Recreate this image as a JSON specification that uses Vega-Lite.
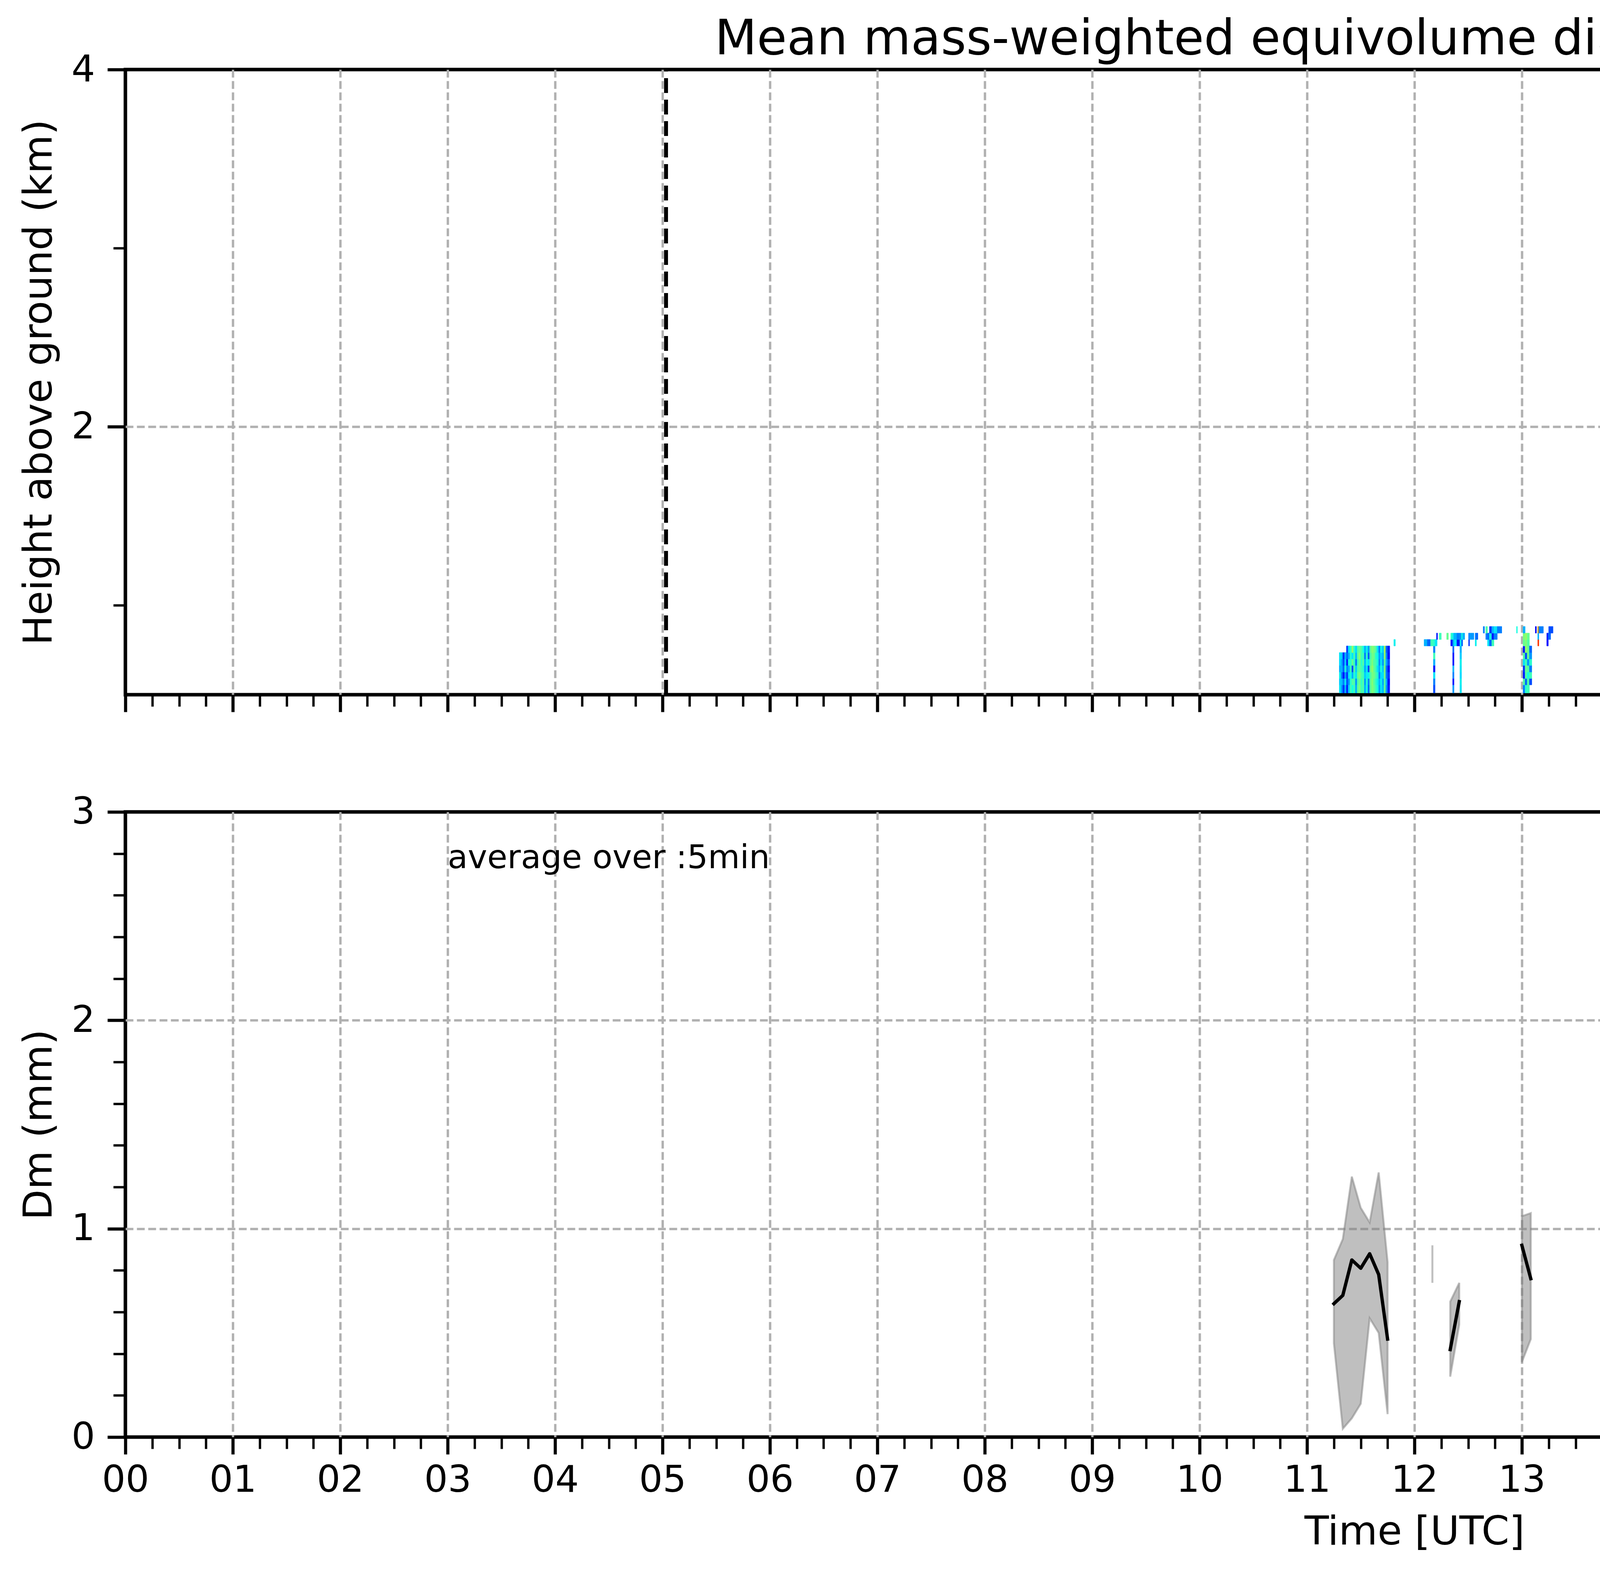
{
  "$schema": "https://vega.github.io/schema/vega-lite/v6.json",
  "padding": {"left": 45, "top": 34, "right": 20, "bottom": 20},
  "background": "white",
  "config": {
    "font": "DejaVu Sans",
    "view": {"stroke": "black", "strokeWidth": 9},
    "axis": {
      "domain": false,
      "tickColor": "black",
      "labelColor": "black",
      "titleColor": "black",
      "labelFontSize": 95,
      "titleFontSize": 102,
      "titleFontWeight": "normal",
      "labelFlush": false,
      "labelOverlap": false,
      "labelBound": false,
      "gridColor": "#b0b0b0",
      "gridWidth": 6,
      "gridDash": [20, 9]
    }
  },
  "datasets": {
    "gates": [
      {"g": 1, "h0": 0.510, "h1": 0.555},
      {"g": 2, "h0": 0.555, "h1": 0.591},
      {"g": 3, "h0": 0.591, "h1": 0.627},
      {"g": 4, "h0": 0.627, "h1": 0.664},
      {"g": 5, "h0": 0.664, "h1": 0.700},
      {"g": 6, "h0": 0.700, "h1": 0.736},
      {"g": 7, "h0": 0.736, "h1": 0.773},
      {"g": 8, "h0": 0.773, "h1": 0.809},
      {"g": 9, "h0": 0.809, "h1": 0.845},
      {"g": 10, "h0": 0.845, "h1": 0.882}
    ],
    "cols": [
      {"c": 0, "t0": 11.300, "t1": 11.317}, {"c": 1, "t0": 11.317, "t1": 11.333},
      {"c": 2, "t0": 11.333, "t1": 11.350}, {"c": 3, "t0": 11.350, "t1": 11.367},
      {"c": 4, "t0": 11.367, "t1": 11.383}, {"c": 5, "t0": 11.383, "t1": 11.400},
      {"c": 6, "t0": 11.400, "t1": 11.417}, {"c": 7, "t0": 11.417, "t1": 11.433},
      {"c": 8, "t0": 11.433, "t1": 11.450}, {"c": 9, "t0": 11.450, "t1": 11.467},
      {"c": 10, "t0": 11.467, "t1": 11.483}, {"c": 11, "t0": 11.483, "t1": 11.500},
      {"c": 12, "t0": 11.500, "t1": 11.517}, {"c": 13, "t0": 11.517, "t1": 11.533},
      {"c": 14, "t0": 11.533, "t1": 11.550}, {"c": 15, "t0": 11.550, "t1": 11.567},
      {"c": 16, "t0": 11.567, "t1": 11.583}, {"c": 17, "t0": 11.583, "t1": 11.600},
      {"c": 18, "t0": 11.600, "t1": 11.617}, {"c": 19, "t0": 11.617, "t1": 11.633},
      {"c": 20, "t0": 11.633, "t1": 11.650}, {"c": 21, "t0": 11.650, "t1": 11.667},
      {"c": 22, "t0": 11.667, "t1": 11.683}, {"c": 23, "t0": 11.683, "t1": 11.700},
      {"c": 24, "t0": 11.700, "t1": 11.717}, {"c": 25, "t0": 11.717, "t1": 11.733},
      {"c": 26, "t0": 11.733, "t1": 11.750}, {"c": 27, "t0": 11.750, "t1": 11.770},
      {"c": 30, "t0": 11.808, "t1": 11.822},
      {"c": 31, "t0": 12.090, "t1": 12.120}, {"c": 32, "t0": 12.120, "t1": 12.150},
      {"c": 33, "t0": 12.150, "t1": 12.176}, {"c": 34, "t0": 12.176, "t1": 12.192},
      {"c": 35, "t0": 12.192, "t1": 12.211}, {"c": 36, "t0": 12.205, "t1": 12.215},
      {"c": 37, "t0": 12.230, "t1": 12.250}, {"c": 38, "t0": 12.300, "t1": 12.316},
      {"c": 39, "t0": 12.338, "t1": 12.356}, {"c": 40, "t0": 12.356, "t1": 12.368},
      {"c": 41, "t0": 12.368, "t1": 12.395}, {"c": 42, "t0": 12.395, "t1": 12.423},
      {"c": 43, "t0": 12.423, "t1": 12.438}, {"c": 44, "t0": 12.438, "t1": 12.449},
      {"c": 45, "t0": 12.449, "t1": 12.468}, {"c": 46, "t0": 12.504, "t1": 12.513},
      {"c": 47, "t0": 12.513, "t1": 12.553}, {"c": 48, "t0": 12.565, "t1": 12.577},
      {"c": 49, "t0": 12.577, "t1": 12.590}, {"c": 50, "t0": 12.640, "t1": 12.652},
      {"c": 51, "t0": 12.664, "t1": 12.680}, {"c": 52, "t0": 12.680, "t1": 12.698},
      {"c": 53, "t0": 12.698, "t1": 12.720}, {"c": 54, "t0": 12.720, "t1": 12.740},
      {"c": 55, "t0": 12.740, "t1": 12.771}, {"c": 56, "t0": 12.771, "t1": 12.813},
      {"c": 57, "t0": 12.950, "t1": 12.958}, {"c": 58, "t0": 13.011, "t1": 13.030},
      {"c": 59, "t0": 13.030, "t1": 13.050}, {"c": 60, "t0": 13.050, "t1": 13.070},
      {"c": 61, "t0": 13.070, "t1": 13.092}, {"c": 62, "t0": 13.125, "t1": 13.135},
      {"c": 63, "t0": 13.148, "t1": 13.158}, {"c": 64, "t0": 13.158, "t1": 13.200},
      {"c": 65, "t0": 13.232, "t1": 13.246}, {"c": 66, "t0": 13.246, "t1": 13.268},
      {"c": 67, "t0": 13.250, "t1": 13.290}, {"c": 68, "t0": 13.872, "t1": 13.880},
      {"c": 69, "t0": 13.965, "t1": 13.985}, {"c": 70, "t0": 14.137, "t1": 14.160},
      {"c": 71, "t0": 14.160, "t1": 14.200}, {"c": 72, "t0": 14.200, "t1": 14.225}
    ],
    "cells": [
      {"c":0,"g":1,"v":0.70},{"c":0,"g":2,"v":0.65},{"c":0,"g":3,"v":0.72},{"c":0,"g":4,"v":0.60},{"c":0,"g":5,"v":0.68},{"c":0,"g":6,"v":0.70},
      {"c":1,"g":1,"v":0.55},{"c":1,"g":2,"v":0.62},{"c":1,"g":3,"v":0.50},{"c":1,"g":4,"v":0.60},{"c":1,"g":5,"v":0.58},{"c":1,"g":6,"v":0.65},
      {"c":2,"g":1,"v":0.35},{"c":2,"g":2,"v":0.50},{"c":2,"g":3,"v":0.30},{"c":2,"g":4,"v":0.45},{"c":2,"g":5,"v":0.40},{"c":2,"g":6,"v":0.35},
      {"c":3,"g":1,"v":0.60},{"c":3,"g":2,"v":0.70},{"c":3,"g":3,"v":0.55},{"c":3,"g":4,"v":0.75},{"c":3,"g":5,"v":0.65},{"c":3,"g":6,"v":0.60},
      {"c":4,"g":1,"v":0.30},{"c":4,"g":2,"v":0.40},{"c":4,"g":3,"v":0.35},{"c":4,"g":4,"v":0.50},{"c":4,"g":5,"v":0.30},{"c":4,"g":6,"v":0.45},{"c":4,"g":7,"v":0.35},
      {"c":5,"g":1,"v":0.65},{"c":5,"g":2,"v":0.55},{"c":5,"g":3,"v":0.70},{"c":5,"g":4,"v":0.60},{"c":5,"g":5,"v":0.75},{"c":5,"g":6,"v":0.60},{"c":5,"g":7,"v":0.70},
      {"c":6,"g":1,"v":0.85},{"c":6,"g":2,"v":0.80},{"c":6,"g":3,"v":0.75},{"c":6,"g":4,"v":0.85},{"c":6,"g":5,"v":0.80},{"c":6,"g":6,"v":0.78},{"c":6,"g":7,"v":0.82},
      {"c":7,"g":1,"v":0.75},{"c":7,"g":2,"v":0.90},{"c":7,"g":3,"v":0.60},{"c":7,"g":4,"v":0.40},{"c":7,"g":5,"v":0.95},{"c":7,"g":6,"v":0.70},{"c":7,"g":7,"v":1.05},
      {"c":8,"g":1,"v":0.85},{"c":8,"g":2,"v":0.88},{"c":8,"g":3,"v":0.80},{"c":8,"g":4,"v":0.90},{"c":8,"g":5,"v":0.82},{"c":8,"g":6,"v":0.86},{"c":8,"g":7,"v":0.80},
      {"c":9,"g":1,"v":0.60},{"c":9,"g":2,"v":0.55},{"c":9,"g":3,"v":0.70},{"c":9,"g":4,"v":0.65},{"c":9,"g":5,"v":0.50},{"c":9,"g":6,"v":0.62},{"c":9,"g":7,"v":0.68},
      {"c":10,"g":1,"v":0.92},{"c":10,"g":2,"v":0.88},{"c":10,"g":3,"v":0.95},{"c":10,"g":4,"v":0.90},{"c":10,"g":5,"v":0.85},{"c":10,"g":6,"v":0.92},{"c":10,"g":7,"v":0.90},
      {"c":11,"g":1,"v":0.98},{"c":11,"g":2,"v":0.95},{"c":11,"g":3,"v":1.00},{"c":11,"g":4,"v":0.92},{"c":11,"g":5,"v":0.96},{"c":11,"g":6,"v":1.02},{"c":11,"g":7,"v":0.95},
      {"c":12,"g":1,"v":0.85},{"c":12,"g":2,"v":0.82},{"c":12,"g":3,"v":0.88},{"c":12,"g":4,"v":0.86},{"c":12,"g":5,"v":0.80},{"c":12,"g":6,"v":0.84},{"c":12,"g":7,"v":0.88},
      {"c":13,"g":1,"v":0.88},{"c":13,"g":2,"v":0.90},{"c":13,"g":3,"v":0.84},{"c":13,"g":4,"v":0.80},{"c":13,"g":5,"v":0.90},{"c":13,"g":6,"v":0.86},{"c":13,"g":7,"v":0.75},
      {"c":14,"g":1,"v":0.60},{"c":14,"g":2,"v":0.55},{"c":14,"g":3,"v":0.65},{"c":14,"g":4,"v":0.58},{"c":14,"g":5,"v":0.62},{"c":14,"g":6,"v":0.50},{"c":14,"g":7,"v":0.60},
      {"c":15,"g":1,"v":0.75},{"c":15,"g":2,"v":0.78},{"c":15,"g":3,"v":0.72},{"c":15,"g":4,"v":0.70},{"c":15,"g":5,"v":0.76},{"c":15,"g":6,"v":0.80},{"c":15,"g":7,"v":0.72},
      {"c":16,"g":1,"v":0.45},{"c":16,"g":2,"v":0.50},{"c":16,"g":3,"v":0.72},{"c":16,"g":4,"v":0.38},{"c":16,"g":5,"v":0.70},{"c":16,"g":6,"v":0.42},{"c":16,"g":7,"v":0.55},
      {"c":17,"g":1,"v":0.90},{"c":17,"g":2,"v":0.92},{"c":17,"g":3,"v":0.88},{"c":17,"g":4,"v":0.95},{"c":17,"g":5,"v":0.90},{"c":17,"g":6,"v":0.87},{"c":17,"g":7,"v":0.92},
      {"c":18,"g":1,"v":1.00},{"c":18,"g":2,"v":1.02},{"c":18,"g":3,"v":0.98},{"c":18,"g":4,"v":1.05},{"c":18,"g":5,"v":1.00},{"c":18,"g":6,"v":0.97},{"c":18,"g":7,"v":1.02},
      {"c":19,"g":1,"v":0.95},{"c":19,"g":2,"v":0.92},{"c":19,"g":3,"v":0.97},{"c":19,"g":4,"v":0.94},{"c":19,"g":5,"v":0.90},{"c":19,"g":6,"v":0.96},{"c":19,"g":7,"v":0.98},
      {"c":20,"g":1,"v":0.85},{"c":20,"g":2,"v":0.82},{"c":20,"g":3,"v":0.88},{"c":20,"g":4,"v":0.84},{"c":20,"g":5,"v":0.86},{"c":20,"g":6,"v":0.80},{"c":20,"g":7,"v":0.90},
      {"c":21,"g":1,"v":0.75},{"c":21,"g":2,"v":0.72},{"c":21,"g":3,"v":0.78},{"c":21,"g":4,"v":0.70},{"c":21,"g":5,"v":0.76},{"c":21,"g":6,"v":0.74},{"c":21,"g":7,"v":0.70},
      {"c":22,"g":1,"v":0.55},{"c":22,"g":2,"v":0.60},{"c":22,"g":3,"v":0.50},{"c":22,"g":4,"v":0.58},{"c":22,"g":5,"v":0.52},{"c":22,"g":6,"v":0.56},{"c":22,"g":7,"v":0.50},
      {"c":23,"g":1,"v":0.70},{"c":23,"g":2,"v":0.72},{"c":23,"g":3,"v":0.68},{"c":23,"g":4,"v":0.75},{"c":23,"g":5,"v":0.70},{"c":23,"g":6,"v":0.66},{"c":23,"g":7,"v":0.74},
      {"c":24,"g":1,"v":0.62},{"c":24,"g":2,"v":0.58},{"c":24,"g":3,"v":0.68},{"c":24,"g":4,"v":0.64},{"c":24,"g":5,"v":0.55},{"c":24,"g":6,"v":0.60},{"c":24,"g":7,"v":0.65},
      {"c":25,"g":1,"v":0.95},{"c":25,"g":2,"v":0.90},{"c":25,"g":3,"v":0.98},{"c":25,"g":4,"v":1.00},{"c":25,"g":5,"v":0.92},{"c":25,"g":6,"v":1.05},{"c":25,"g":7,"v":1.10},
      {"c":26,"g":1,"v":0.55},{"c":26,"g":2,"v":0.60},{"c":26,"g":3,"v":0.50},{"c":26,"g":4,"v":0.48},{"c":26,"g":5,"v":0.58},{"c":26,"g":6,"v":0.52},{"c":26,"g":7,"v":0.45},
      {"c":27,"g":1,"v":0.30},{"c":27,"g":2,"v":0.25},{"c":27,"g":3,"v":0.35},{"c":27,"g":4,"v":0.28},{"c":27,"g":5,"v":0.40},{"c":27,"g":6,"v":0.22},{"c":27,"g":7,"v":0.30},
      {"c":30,"g":8,"v":0.72},
      {"c":31,"g":8,"v":0.60},{"c":32,"g":8,"v":0.45},{"c":33,"g":8,"v":0.85},
      {"c":34,"g":1,"v":0.40},{"c":34,"g":2,"v":0.50},{"c":34,"g":3,"v":0.70},{"c":34,"g":4,"v":0.30},{"c":34,"g":5,"v":0.60},{"c":34,"g":6,"v":0.85},{"c":34,"g":7,"v":0.50},{"c":34,"g":8,"v":0.80},
      {"c":35,"g":8,"v":0.70},{"c":36,"g":9,"v":0.30},{"c":37,"g":9,"v":0.85},{"c":38,"g":9,"v":0.95},
      {"c":39,"g":8,"v":0.25},{"c":39,"g":9,"v":0.80},
      {"c":40,"g":1,"v":0.55},{"c":40,"g":2,"v":0.30},{"c":40,"g":3,"v":0.50},{"c":40,"g":4,"v":0.60},{"c":40,"g":5,"v":0.30},{"c":40,"g":6,"v":0.30},{"c":40,"g":7,"v":0.45},{"c":40,"g":8,"v":0.55},{"c":40,"g":9,"v":0.70},
      {"c":41,"g":8,"v":0.70},{"c":41,"g":9,"v":0.60},
      {"c":42,"g":8,"v":0.30},{"c":42,"g":9,"v":0.50},
      {"c":43,"g":1,"v":0.70},{"c":43,"g":2,"v":0.72},{"c":43,"g":3,"v":0.68},{"c":43,"g":4,"v":0.70},{"c":43,"g":5,"v":0.72},{"c":43,"g":6,"v":0.65},{"c":43,"g":7,"v":0.60},{"c":43,"g":8,"v":0.72},{"c":43,"g":9,"v":0.55},
      {"c":44,"g":8,"v":0.45},{"c":44,"g":9,"v":0.75},
      {"c":45,"g":9,"v":0.60},
      {"c":46,"g":8,"v":0.35},{"c":46,"g":9,"v":0.50},
      {"c":47,"g":9,"v":0.55},
      {"c":48,"g":8,"v":0.72},{"c":48,"g":9,"v":0.50},
      {"c":49,"g":9,"v":0.45},
      {"c":50,"g":10,"v":0.50},
      {"c":51,"g":9,"v":0.50},{"c":51,"g":10,"v":0.88},
      {"c":52,"g":8,"v":0.70},{"c":52,"g":9,"v":0.45},
      {"c":53,"g":8,"v":0.45},{"c":53,"g":9,"v":0.75},{"c":53,"g":10,"v":0.35},
      {"c":54,"g":8,"v":0.85},{"c":54,"g":9,"v":0.30},{"c":54,"g":10,"v":0.60},
      {"c":55,"g":9,"v":0.50},{"c":55,"g":10,"v":0.70},
      {"c":56,"g":10,"v":0.50},
      {"c":57,"g":10,"v":0.75},
      {"c":58,"g":1,"v":0.50},{"c":58,"g":2,"v":0.90},{"c":58,"g":3,"v":0.30},{"c":58,"g":4,"v":0.35},{"c":58,"g":5,"v":0.70},{"c":58,"g":6,"v":0.90},{"c":58,"g":7,"v":0.30},{"c":58,"g":8,"v":0.95},{"c":58,"g":9,"v":1.00},{"c":58,"g":10,"v":0.60},
      {"c":59,"g":1,"v":0.80},{"c":59,"g":2,"v":0.45},{"c":59,"g":3,"v":0.90},{"c":59,"g":4,"v":0.95},{"c":59,"g":5,"v":0.85},{"c":59,"g":6,"v":0.40},{"c":59,"g":7,"v":1.05},{"c":59,"g":8,"v":1.00},{"c":59,"g":9,"v":1.05},
      {"c":60,"g":1,"v":0.85},{"c":60,"g":2,"v":0.90},{"c":60,"g":3,"v":0.75},{"c":60,"g":4,"v":0.90},{"c":60,"g":5,"v":0.55},{"c":60,"g":6,"v":0.95},{"c":60,"g":7,"v":0.95},{"c":60,"g":8,"v":0.90},{"c":60,"g":9,"v":0.95},
      {"c":61,"g":2,"v":0.40},{"c":61,"g":3,"v":0.85},{"c":61,"g":4,"v":0.50},{"c":61,"g":5,"v":0.80},{"c":61,"g":6,"v":0.55},{"c":61,"g":7,"v":0.45},
      {"c":62,"g":10,"v":0.25},
      {"c":63,"g":8,"v":1.70},{"c":63,"g":9,"v":0.60},{"c":63,"g":10,"v":1.50},
      {"c":64,"g":10,"v":0.50},
      {"c":65,"g":8,"v":0.25},{"c":65,"g":9,"v":0.30},
      {"c":66,"g":9,"v":0.45},
      {"c":67,"g":10,"v":0.40},
      {"c":68,"g":9,"v":0.55},
      {"c":69,"g":8,"v":0.45},
      {"c":70,"g":8,"v":0.20},
      {"c":71,"g":8,"v":0.70},
      {"c":72,"g":8,"v":0.30}
    ],
    "colorbar": [
      {"z0":0.00,"z1":0.02,"z":0.01},{"z0":0.02,"z1":0.04,"z":0.03},{"z0":0.04,"z1":0.06,"z":0.05},{"z0":0.06,"z1":0.08,"z":0.07},{"z0":0.08,"z1":0.10,"z":0.09},
      {"z0":0.10,"z1":0.12,"z":0.11},{"z0":0.12,"z1":0.14,"z":0.13},{"z0":0.14,"z1":0.16,"z":0.15},{"z0":0.16,"z1":0.18,"z":0.17},{"z0":0.18,"z1":0.20,"z":0.19},
      {"z0":0.20,"z1":0.22,"z":0.21},{"z0":0.22,"z1":0.24,"z":0.23},{"z0":0.24,"z1":0.26,"z":0.25},{"z0":0.26,"z1":0.28,"z":0.27},{"z0":0.28,"z1":0.30,"z":0.29},
      {"z0":0.30,"z1":0.32,"z":0.31},{"z0":0.32,"z1":0.34,"z":0.33},{"z0":0.34,"z1":0.36,"z":0.35},{"z0":0.36,"z1":0.38,"z":0.37},{"z0":0.38,"z1":0.40,"z":0.39},
      {"z0":0.40,"z1":0.42,"z":0.41},{"z0":0.42,"z1":0.44,"z":0.43},{"z0":0.44,"z1":0.46,"z":0.45},{"z0":0.46,"z1":0.48,"z":0.47},{"z0":0.48,"z1":0.50,"z":0.49},
      {"z0":0.50,"z1":0.52,"z":0.51},{"z0":0.52,"z1":0.54,"z":0.53},{"z0":0.54,"z1":0.56,"z":0.55},{"z0":0.56,"z1":0.58,"z":0.57},{"z0":0.58,"z1":0.60,"z":0.59},
      {"z0":0.60,"z1":0.62,"z":0.61},{"z0":0.62,"z1":0.64,"z":0.63},{"z0":0.64,"z1":0.66,"z":0.65},{"z0":0.66,"z1":0.68,"z":0.67},{"z0":0.68,"z1":0.70,"z":0.69},
      {"z0":0.70,"z1":0.72,"z":0.71},{"z0":0.72,"z1":0.74,"z":0.73},{"z0":0.74,"z1":0.76,"z":0.75},{"z0":0.76,"z1":0.78,"z":0.77},{"z0":0.78,"z1":0.80,"z":0.79},
      {"z0":0.80,"z1":0.82,"z":0.81},{"z0":0.82,"z1":0.84,"z":0.83},{"z0":0.84,"z1":0.86,"z":0.85},{"z0":0.86,"z1":0.88,"z":0.87},{"z0":0.88,"z1":0.90,"z":0.89},
      {"z0":0.90,"z1":0.92,"z":0.91},{"z0":0.92,"z1":0.94,"z":0.93},{"z0":0.94,"z1":0.96,"z":0.95},{"z0":0.96,"z1":0.98,"z":0.97},{"z0":0.98,"z1":1.00,"z":0.99},
      {"z0":1.00,"z1":1.02,"z":1.01},{"z0":1.02,"z1":1.04,"z":1.03},{"z0":1.04,"z1":1.06,"z":1.05},{"z0":1.06,"z1":1.08,"z":1.07},{"z0":1.08,"z1":1.10,"z":1.09},
      {"z0":1.10,"z1":1.12,"z":1.11},{"z0":1.12,"z1":1.14,"z":1.13},{"z0":1.14,"z1":1.16,"z":1.15},{"z0":1.16,"z1":1.18,"z":1.17},{"z0":1.18,"z1":1.20,"z":1.19},
      {"z0":1.20,"z1":1.22,"z":1.21},{"z0":1.22,"z1":1.24,"z":1.23},{"z0":1.24,"z1":1.26,"z":1.25},{"z0":1.26,"z1":1.28,"z":1.27},{"z0":1.28,"z1":1.30,"z":1.29},
      {"z0":1.30,"z1":1.32,"z":1.31},{"z0":1.32,"z1":1.34,"z":1.33},{"z0":1.34,"z1":1.36,"z":1.35},{"z0":1.36,"z1":1.38,"z":1.37},{"z0":1.38,"z1":1.40,"z":1.39},
      {"z0":1.40,"z1":1.42,"z":1.41},{"z0":1.42,"z1":1.44,"z":1.43},{"z0":1.44,"z1":1.46,"z":1.45},{"z0":1.46,"z1":1.48,"z":1.47},{"z0":1.48,"z1":1.50,"z":1.49},
      {"z0":1.50,"z1":1.52,"z":1.51},{"z0":1.52,"z1":1.54,"z":1.53},{"z0":1.54,"z1":1.56,"z":1.55},{"z0":1.56,"z1":1.58,"z":1.57},{"z0":1.58,"z1":1.60,"z":1.59},
      {"z0":1.60,"z1":1.62,"z":1.61},{"z0":1.62,"z1":1.64,"z":1.63},{"z0":1.64,"z1":1.66,"z":1.65},{"z0":1.66,"z1":1.68,"z":1.67},{"z0":1.68,"z1":1.70,"z":1.69},
      {"z0":1.70,"z1":1.72,"z":1.71},{"z0":1.72,"z1":1.74,"z":1.73},{"z0":1.74,"z1":1.76,"z":1.75},{"z0":1.76,"z1":1.78,"z":1.77},{"z0":1.78,"z1":1.80,"z":1.79},
      {"z0":1.80,"z1":1.82,"z":1.81},{"z0":1.82,"z1":1.84,"z":1.83},{"z0":1.84,"z1":1.86,"z":1.85},{"z0":1.86,"z1":1.88,"z":1.87},{"z0":1.88,"z1":1.90,"z":1.89},
      {"z0":1.90,"z1":1.92,"z":1.91},{"z0":1.92,"z1":1.94,"z":1.93},{"z0":1.94,"z1":1.96,"z":1.95},{"z0":1.96,"z1":1.98,"z":1.97},{"z0":1.98,"z1":2.00,"z":1.99}
    ],
    "band": [
      {"seg": "a", "t": 11.25, "lo": 0.45, "hi": 0.85, "mean": 0.64},
      {"seg": "a", "t": 11.333, "lo": 0.04, "hi": 0.95, "mean": 0.68},
      {"seg": "a", "t": 11.417, "lo": 0.09, "hi": 1.25, "mean": 0.85},
      {"seg": "a", "t": 11.5, "lo": 0.16, "hi": 1.10, "mean": 0.81},
      {"seg": "a", "t": 11.583, "lo": 0.57, "hi": 1.03, "mean": 0.88},
      {"seg": "a", "t": 11.667, "lo": 0.50, "hi": 1.27, "mean": 0.78},
      {"seg": "a", "t": 11.75, "lo": 0.11, "hi": 0.84, "mean": 0.47},
      {"seg": "b", "t": 12.167, "lo": 0.74, "hi": 0.92, "mean": null},
      {"seg": "c", "t": 12.333, "lo": 0.29, "hi": 0.65, "mean": 0.42},
      {"seg": "c", "t": 12.417, "lo": 0.54, "hi": 0.74, "mean": 0.65},
      {"seg": "d", "t": 13.0, "lo": 0.36, "hi": 1.06, "mean": 0.92},
      {"seg": "d", "t": 13.083, "lo": 0.47, "hi": 1.075, "mean": 0.76}
    ]
  },
  "columns": 2,
  "spacing": {"row": 300, "column": 75},
  "bounds": "flush",
  "concat": [
    {
      "width": 6600,
      "height": 1600,
      "title": {
        "text": "Mean mass-weighted equivolume diameter on 20260327",
        "fontSize": 125,
        "fontWeight": "normal",
        "color": "black",
        "anchor": "middle",
        "baseline": "alphabetic",
        "offset": -133
      },
      "layer": [
        {
          "data": {"name": "cells"},
          "transform": [
            {"lookup": "c", "from": {"data": {"name": "cols"}, "key": "c", "fields": ["t0", "t1"]}},
            {"lookup": "g", "from": {"data": {"name": "gates"}, "key": "g", "fields": ["h0", "h1"]}}
          ],
          "mark": {"type": "rect", "strokeWidth": 1},
          "encoding": {
            "x": {
              "field": "t0",
              "type": "quantitative",
              "scale": {"domain": [0, 24], "nice": false, "zero": false},
              "axis": {
                "orient": "bottom",
                "values": [0,1,2,3,4,5,6,7,8,9,10,11,12,13,14,15,16,17,18,19,20,21,22,23],
                "labels": false,
                "tickSize": 44,
                "tickWidth": 8,
                "grid": true,
                "gridOpacity": {"condition": {"test": "datum.value === 0", "value": 0}, "value": 1},
                "title": null
              }
            },
            "x2": {"field": "t1"},
            "y": {
              "field": "h0",
              "type": "quantitative",
              "scale": {"domain": [0.5, 4], "nice": false, "zero": false},
              "axis": {
                "orient": "left",
                "values": [2, 4],
                "tickSize": 46,
                "tickWidth": 8,
                "labelPadding": 32,
                "grid": true,
                "gridOpacity": {"condition": {"test": "datum.value === 4", "value": 0}, "value": 1},
                "title": "Height above ground (km)",
                "titlePadding": 30
              }
            },
            "y2": {"field": "h1"},
            "color": {
              "field": "v",
              "type": "quantitative",
              "scale": {
                "type": "linear",
                "domain": [0, 0.22, 0.25, 0.68, 0.75, 1.0, 1.28, 1.32, 1.78, 1.82, 2.0],
                "range": ["#000080", "#0000ff", "#0000ff", "#00dbff", "#14ffe2", "#7bff7b", "#eeff08", "#ffec00", "#ff1300", "#e80000", "#800000"],
                "interpolate": "rgb",
                "clamp": true
              },
              "legend": null
            },
            "stroke": {
              "field": "v",
              "type": "quantitative",
              "scale": {
                "type": "linear",
                "domain": [0, 0.22, 0.25, 0.68, 0.75, 1.0, 1.28, 1.32, 1.78, 1.82, 2.0],
                "range": ["#000080", "#0000ff", "#0000ff", "#00dbff", "#14ffe2", "#7bff7b", "#eeff08", "#ffec00", "#ff1300", "#e80000", "#800000"],
                "interpolate": "rgb",
                "clamp": true
              },
              "legend": null
            }
          }
        },
        {
          "data": {"values": [{"event": "sunrise", "t": 5.033}, {"event": "sunset", "t": 17.598}]},
          "mark": {"type": "rule", "color": "black", "strokeWidth": 10, "strokeDash": [38, 17]},
          "encoding": {
            "x": {
              "field": "t",
              "type": "quantitative",
              "axis": {
                "orient": "bottom",
                "values": [0.25,0.5,0.75,1.25,1.5,1.75,2.25,2.5,2.75,3.25,3.5,3.75,4.25,4.5,4.75,5.25,5.5,5.75,6.25,6.5,6.75,7.25,7.5,7.75,8.25,8.5,8.75,9.25,9.5,9.75,10.25,10.5,10.75,11.25,11.5,11.75,12.25,12.5,12.75,13.25,13.5,13.75,14.25,14.5,14.75,15.25,15.5,15.75,16.25,16.5,16.75,17.25,17.5,17.75,18.25,18.5,18.75,19.25,19.5,19.75,20.25,20.5,20.75,21.25,21.5,21.75,22.25,22.5,22.75,23.25,23.5,23.75,24],
                "labels": false,
                "tickSize": 30,
                "tickWidth": 6,
                "grid": false,
                "title": null
              }
            },
            "y": {
              "datum": 0.5,
              "type": "quantitative",
              "axis": {
                "orient": "left",
                "values": [1, 3],
                "labels": false,
                "tickSize": 31,
                "tickWidth": 6,
                "grid": false,
                "title": null
              }
            },
            "y2": {"datum": 4}
          }
        }
      ],
      "resolve": {"axis": {"x": "independent", "y": "independent"}}
    },
    {
      "width": 111,
      "height": 1600,
      "view": {"stroke": "black", "strokeWidth": 4},
      "data": {"name": "colorbar"},
      "mark": {"type": "rect", "strokeWidth": 2},
      "encoding": {
        "y": {
          "field": "z0",
          "type": "quantitative",
          "scale": {"domain": [0, 2], "nice": false, "zero": false},
          "axis": {
            "orient": "right",
            "values": [0, 0.4, 0.8, 1.2, 1.6, 2.0],
            "format": ".1f",
            "tickSize": 20,
            "tickWidth": 4,
            "labelFontSize": 75,
            "labelPadding": 32,
            "grid": false,
            "title": "Dm (mm)",
            "titleFontSize": 80,
            "titleAngle": 270,
            "titleBaseline": "top",
            "titlePadding": 30
          }
        },
        "y2": {"field": "z1"},
        "color": {"field": "z", "type": "quantitative", "legend": null},
        "stroke": {"field": "z", "type": "quantitative", "legend": null}
      }
    },
    {
      "width": 6600,
      "height": 1600,
      "layer": [
        {
          "data": {"name": "band"},
          "mark": {"type": "area", "fill": "#808080", "fillOpacity": 0.5, "stroke": "#808080", "strokeOpacity": 0.5, "strokeWidth": 5},
          "encoding": {
            "x": {
              "field": "t",
              "type": "quantitative",
              "scale": {"domain": [0, 24], "nice": false, "zero": false},
              "axis": {
                "orient": "bottom",
                "values": [0,1,2,3,4,5,6,7,8,9,10,11,12,13,14,15,16,17,18,19,20,21,22,23],
                "format": "02d",
                "tickSize": 44,
                "tickWidth": 8,
                "labelPadding": 20,
                "grid": true,
                "gridOpacity": {"condition": {"test": "datum.value === 0", "value": 0}, "value": 1},
                "title": "Time [UTC]",
                "titlePadding": 35
              }
            },
            "y": {
              "field": "lo",
              "type": "quantitative",
              "scale": {"domain": [0, 3], "nice": false},
              "axis": {
                "orient": "left",
                "values": [0, 1, 2, 3],
                "tickSize": 46,
                "tickWidth": 8,
                "labelPadding": 32,
                "grid": true,
                "gridOpacity": {"condition": {"test": "datum.value === 0 || datum.value === 3", "value": 0}, "value": 1},
                "title": "Dm (mm)",
                "titlePadding": 30
              }
            },
            "y2": {"field": "hi"},
            "detail": {"field": "seg"}
          }
        },
        {
          "data": {"name": "band"},
          "transform": [{"filter": "isValid(datum.mean)"}],
          "mark": {"type": "line", "color": "black", "strokeWidth": 8.5, "strokeCap": "square", "strokeJoin": "round"},
          "encoding": {
            "x": {"field": "t", "type": "quantitative", "axis": null},
            "y": {"field": "mean", "type": "quantitative", "axis": null},
            "detail": {"field": "seg"}
          }
        },
        {
          "data": {"values": [{"note": "average over :5min", "t": 3, "d": 2.73}]},
          "mark": {"type": "text", "fontSize": 84, "align": "left", "baseline": "alphabetic", "color": "black"},
          "encoding": {
            "text": {"field": "note"},
            "x": {
              "field": "t",
              "type": "quantitative",
              "axis": {
                "orient": "bottom",
                "values": [0.25,0.5,0.75,1.25,1.5,1.75,2.25,2.5,2.75,3.25,3.5,3.75,4.25,4.5,4.75,5.25,5.5,5.75,6.25,6.5,6.75,7.25,7.5,7.75,8.25,8.5,8.75,9.25,9.5,9.75,10.25,10.5,10.75,11.25,11.5,11.75,12.25,12.5,12.75,13.25,13.5,13.75,14.25,14.5,14.75,15.25,15.5,15.75,16.25,16.5,16.75,17.25,17.5,17.75,18.25,18.5,18.75,19.25,19.5,19.75,20.25,20.5,20.75,21.25,21.5,21.75,22.25,22.5,22.75,23.25,23.5,23.75,24],
                "labels": false,
                "tickSize": 30,
                "tickWidth": 6,
                "grid": false,
                "title": null
              }
            },
            "y": {
              "field": "d",
              "type": "quantitative",
              "axis": {
                "orient": "left",
                "values": [0.2,0.4,0.6,0.8,1.2,1.4,1.6,1.8,2.2,2.4,2.6,2.8],
                "labels": false,
                "tickSize": 31,
                "tickWidth": 6,
                "grid": false,
                "title": null
              }
            }
          }
        }
      ],
      "resolve": {"axis": {"x": "independent", "y": "independent"}}
    }
  ]
}
